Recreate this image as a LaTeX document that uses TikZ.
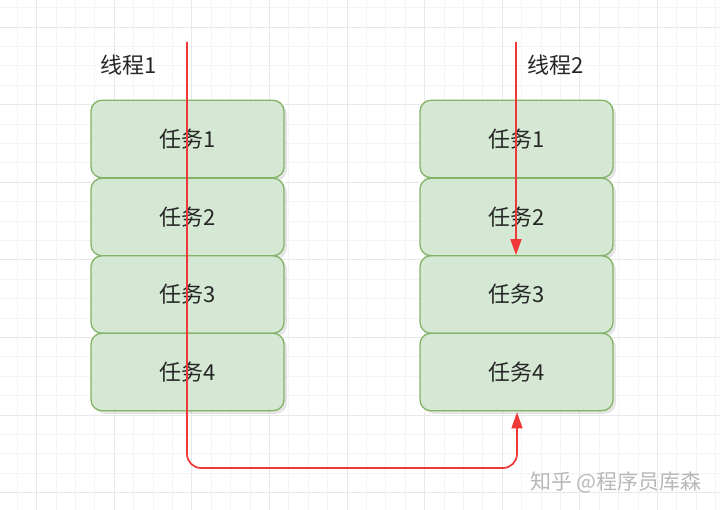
\documentclass[tikz,border=0pt]{standalone}
\usepackage{fontspec}
\setmainfont{Noto Sans CJK SC}
\usetikzlibrary{arrows.meta}
\definecolor{taskfill}{HTML}{D5E8D4}
\definecolor{taskline}{HTML}{82B366}
\definecolor{redline}{HTML}{F03838}
\definecolor{gridminor}{HTML}{F4F4F4}
\definecolor{gridmajor}{HTML}{E8E8E8}
\tikzset{
  taskbox/.style={draw=taskline, fill=taskfill, line width=1.3pt, rounded corners=11pt,
    minimum width=193pt, minimum height=77.5pt, inner sep=0pt, font=\fontsize{22}{24}\selectfont, text=black!85},
  shadowbox/.style={fill=black, opacity=0.10, rounded corners=11pt},
  threadlabel/.style={font=\fontsize{22}{24}\selectfont, text=black!85, inner sep=0pt},
  redarrow/.style={draw=redline, line width=1.7pt, rounded corners=14pt},
  tip/.style={-{Triangle[length=16pt,width=11pt]}}
}
\begin{document}
\begin{tikzpicture}[x=1pt,y=-1pt]
\useasboundingbox (0,0) rectangle (720,510);
\fill[white] (0,0) rectangle (720,510);
% grid
\foreach \i in {0,...,37} {
  \draw[gridminor, line width=0.8pt] ({17.2+19.4*\i},0) -- ({17.2+19.4*\i},510);
}
\foreach \i in {0,...,26} {
  \draw[gridminor, line width=0.8pt] (0,{7.6+19.4*\i}) -- (720,{7.6+19.4*\i});
}
\foreach \i in {0,...,9} {
  \draw[gridmajor, line width=0.8pt] ({36.6+77.6*\i},0) -- ({36.6+77.6*\i},510);
}
\foreach \i in {0,...,6} {
  \draw[gridmajor, line width=0.8pt] (0,{27+77.6*\i}) -- (720,{27+77.6*\i});
}
% shadows
\foreach \cx in {187.5,516.5} {
  \foreach \cy in {139,217,294.5,372} {
    \fill[shadowbox] ({\cx-96.5+3},{\cy-38.75+3}) rectangle ({\cx+96.5+3},{\cy+38.75+3});
  }
}
% boxes
\node[taskbox] (l1) at (187.5,139) {任务1};
\node[taskbox] (l2) at (187.5,217) {任务2};
\node[taskbox] (l3) at (187.5,294.5) {任务3};
\node[taskbox] (l4) at (187.5,372) {任务4};
\node[taskbox] (r1) at (516.5,139) {任务1};
\node[taskbox] (r2) at (516.5,217) {任务2};
\node[taskbox] (r3) at (516.5,294.5) {任务3};
\node[taskbox] (r4) at (516.5,372) {任务4};
% labels
\node[threadlabel] (t1) at (129,65) {线程1};
\node[threadlabel] (t2) at (556,65) {线程2};
% red lines
\coordinate (s1) at (187,42);
\coordinate (s2) at (516,42);
\coordinate (c1) at (187,468);
\coordinate (c2) at (517,468);
\draw[redarrow, tip] (s2) -- (s2 |- r3.north);
\draw[redarrow, tip] (s1) -- (c1) -- (c2) -- ([yshift=-1pt]c2 |- r4.south);
% watermark
\node[font=\fontsize{21}{23}\selectfont, text=black!28, anchor=west, inner sep=0pt] (wm) at (530,482) {知乎 @程序员库森};
\end{tikzpicture}
\end{document}
